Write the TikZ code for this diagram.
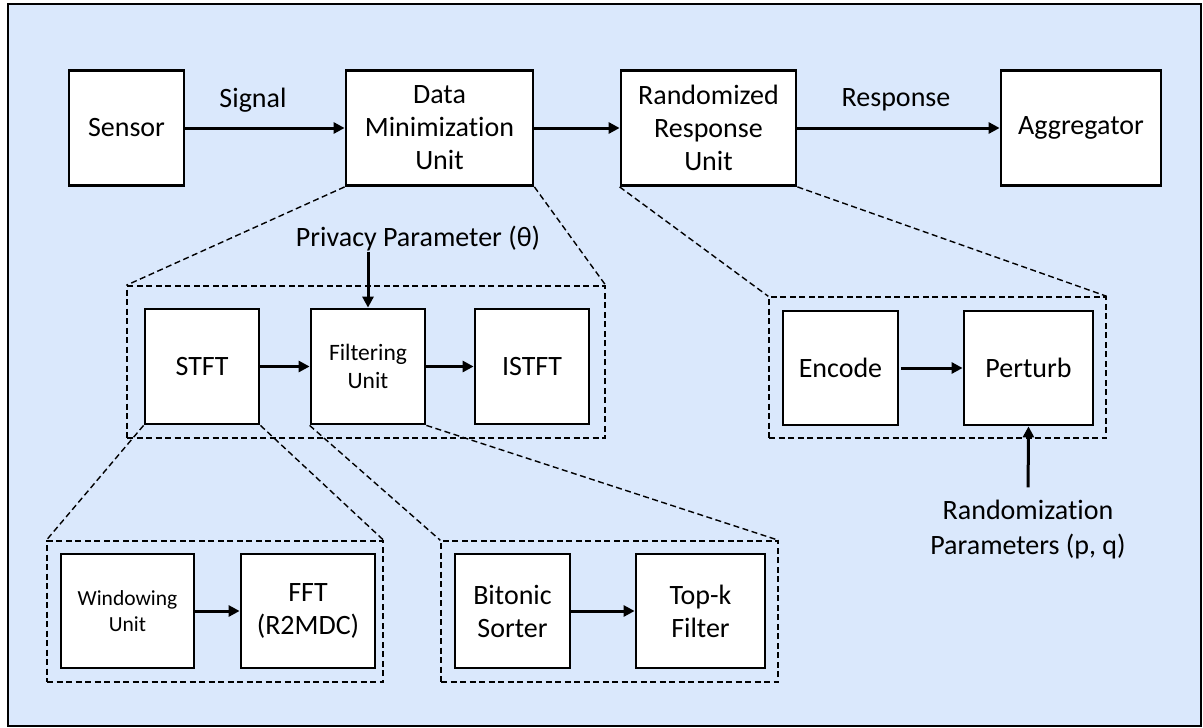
\documentclass[tikz,border=0pt]{standalone}
\usepackage{fontspec}
\setmainfont{Carlito}[Ligatures=NoCommon,Contextuals=NoAlternate]
\usetikzlibrary{arrows.meta}
\definecolor{panelblue}{RGB}{218,232,252}
\tikzset{
  block/.style={draw=black, fill=white, line width=2.8pt, align=center, inner sep=0pt,
    font=\fontsize{28}{33}\selectfont},
  zoomframe/.style={draw=black, line width=1.4pt, dash pattern=on 6pt off 3.5pt, inner sep=0pt},
  zoomline/.style={draw=black, line width=1.4pt, dash pattern=on 6pt off 3.5pt},
  flow/.style={draw=black, line width=3pt, -{Triangle[length=11pt,width=11pt]}},
  caption/.style={align=center, inner sep=0pt, font=\fontsize{28}{35}\selectfont},
}
\begin{document}
\begin{tikzpicture}[x=1pt,y=-1pt]
\useasboundingbox (0,0) rectangle (1203,728);
% panel
\draw[fill=panelblue, draw=black, line width=2pt] (8,4) rectangle (1201,726);

% top-level chain
\node[block, minimum width=115pt, minimum height=115pt] (sensor) at (126.5,128) {Sensor};
\node[block, minimum width=187pt, minimum height=115pt] (dmu) at (439.5,128) {Data\\Minimization\\Unit};
\node[block, minimum width=175pt, minimum height=115pt] (rru) at (708.5,128) {Randomized\\Response\\Unit};
\node[block, minimum width=160pt, minimum height=115pt] (agg) at (1081,128) {Aggregator};

\draw[flow] (sensor.east) -- (dmu.west);
\draw[flow] (dmu.east) -- (rru.west);
\draw[flow] (rru.east) -- (agg.west);
\node[caption] (siglbl) at (253,100) {Signal};
\node[caption] (resplbl) at (896,100) {Response};

% expanded view of the data minimization unit
\node[zoomframe, minimum width=478pt, minimum height=152pt] (dmuz) at (366,362) {};
\node[block, minimum width=114pt, minimum height=115pt] (stft) at (202,366.5) {STFT};
\node[block, minimum width=114pt, minimum height=115pt, font=\fontsize{23.5}{28.5}\selectfont] (filt) at (368,366.5) {Filtering\\Unit};
\node[block, minimum width=114pt, minimum height=115pt] (istft) at (532,366.5) {ISTFT};
\draw[flow] (stft.east) -- (filt.west);
\draw[flow] (filt.east) -- (istft.west);
\node[caption] (privacy) at (418,239) {Privacy Parameter (θ)};
\draw[flow] (privacy.south -| filt.north) -- (filt.north);
\draw[zoomline] (dmu.south west) -- (dmuz.north west);
\draw[zoomline] (dmu.south east) -- (dmuz.north east);

% expanded view of the randomized response unit
\node[zoomframe, minimum width=337pt, minimum height=141pt] (rruz) at (937.5,367.5) {};
\node[block, minimum width=115pt, minimum height=114pt] (enc) at (840.5,368) {Encode};
\node[block, minimum width=129pt, minimum height=114pt] (pert) at (1028.5,368) {Perturb};
\draw[flow, shorten <=2pt] (enc.east) -- (pert.west);
\node[caption] (randp) at (1028,530) {Randomization\\Parameters (p, q)};
\draw[flow, shorten <=13pt] (randp.north) -- (pert.south);
\draw[zoomline] (rru.south west) -- (rruz.north west);
\draw[zoomline] (rru.south east) -- (rruz.north east);

% expanded view of the STFT
\node[zoomframe, minimum width=336pt, minimum height=141pt] (stftz) at (215,611.5) {};
\node[block, minimum width=133pt, minimum height=114pt, font=\fontsize{21.5}{25.5}\selectfont] (win) at (127.5,611) {Windowing\\Unit};
\node[block, minimum width=134pt, minimum height=114pt] (fft) at (308,611) {FFT\\(R2MDC)};
\draw[flow] (win.east) -- (fft.west);
\draw[zoomline] (stft.south west) -- (stftz.north west);
\draw[zoomline] (stft.south east) -- (stftz.north east);

% expanded view of the filtering unit
\node[zoomframe, minimum width=337pt, minimum height=141pt] (filtz) at (609.5,611.5) {};
\node[block, minimum width=115pt, minimum height=114pt] (bit) at (512.5,611) {Bitonic\\Sorter};
\node[block, minimum width=129pt, minimum height=114pt] (topk) at (700.5,611) {Top-k\\Filter};
\draw[flow] (bit.east) -- (topk.west);
\draw[zoomline] (filt.south west) -- (filtz.north west);
\draw[zoomline] (filt.south east) -- (filtz.north east);
\end{tikzpicture}
\end{document}
